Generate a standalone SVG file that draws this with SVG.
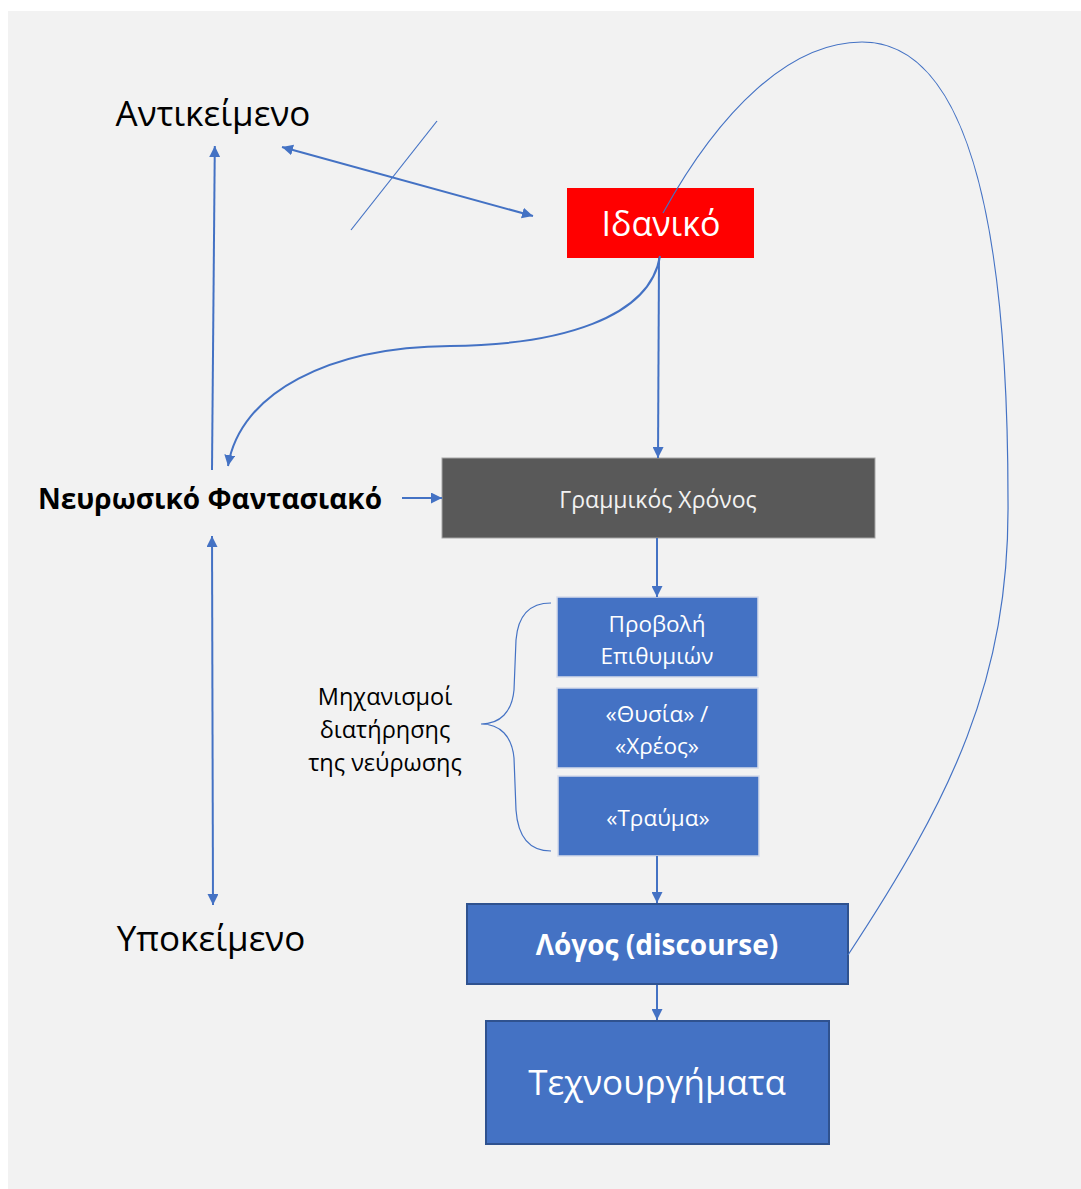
<svg xmlns="http://www.w3.org/2000/svg" width="1081" height="1189" viewBox="0 0 1081 1189">
  <defs>
    <marker id="ah" viewBox="0 0 10 10" refX="10" refY="5" markerWidth="5.5" markerHeight="5.5" orient="auto-start-reverse" markerUnits="strokeWidth">
      <path d="M0,0 L10,5 L0,10 z" fill="#4472c4"/>
    </marker>
    <style>
      text { font-family: "Open Sans", "Noto Sans", "DejaVu Sans", sans-serif; text-anchor: middle; }
      .lbl { fill: #000; font-size: 35px; }
      .bold { font-weight: bold; }
      .wt { fill: #fff; }
      .blue-lt { fill: #4472c4; stroke: #d6dcea; stroke-width: 1.5; }
      .blue-dk { fill: #4472c4; stroke: #2f528f; stroke-width: 2; }
      .conn { fill: none; stroke: #4472c4; stroke-width: 2; }
      .thin { fill: none; stroke: #4472c4; stroke-width: 1.2; }
    </style>
  </defs>

  <!-- page -->
  <rect width="1081" height="1189" fill="#ffffff"/>
  <rect x="8" y="11" width="1073" height="1178" fill="#f2f2f2"/>

  <!-- free labels -->
  <g id="antikeimeno">
    <text class="lbl" x="213" y="126">Αντικείμενο</text>
  </g>
  <g id="ypokeimeno">
    <text class="lbl" x="211" y="951">Υποκείμενο</text>
  </g>
  <g id="neurotiko">
    <text class="bold" x="210" y="509" font-size="28" fill="#000">Νευρωσικό Φαντασιακό</text>
  </g>
  <g id="mixanismoi">
    <text x="385" y="705" font-size="23.5" fill="#000">Μηχανισμοί</text>
    <text x="385" y="738" font-size="23.5" fill="#000">διατήρησης</text>
    <text x="385" y="771" font-size="23.5" fill="#000">της νεύρωσης</text>
  </g>

  <!-- boxes -->
  <g id="idaniko">
    <rect x="567" y="188" width="187" height="70" fill="#ff0000"/>
    <text class="wt" x="661" y="236" font-size="34">Ιδανικό</text>
  </g>
  <g id="grammikos">
    <rect x="442" y="458" width="433" height="80" fill="#595959" stroke="#a6a6a6" stroke-width="1"/>
    <text x="658" y="508" font-size="23" fill="#f2f2f2">Γραμμικός Χρόνος</text>
  </g>
  <g id="provoli">
    <rect class="blue-lt" x="557" y="597" width="201" height="80"/>
    <text class="wt" x="657" y="632" font-size="22.5">Προβολή</text>
    <text class="wt" x="657" y="664" font-size="22.5">Επιθυμιών</text>
  </g>
  <g id="thysia">
    <rect class="blue-lt" x="557" y="688" width="201" height="80"/>
    <text class="wt" x="657" y="722" font-size="22.5">«Θυσία» /</text>
    <text class="wt" x="657" y="754" font-size="22.5">«Χρέος»</text>
  </g>
  <g id="trauma">
    <rect class="blue-lt" x="558" y="776" width="201" height="80"/>
    <text class="wt" x="658" y="826" font-size="22.5">«Τραύμα»</text>
  </g>
  <g id="logos">
    <rect class="blue-dk" x="467" y="904" width="381" height="80"/>
    <text class="wt bold" x="657" y="955" font-size="28">Λόγος (discourse)</text>
  </g>
  <g id="technourgimata">
    <rect class="blue-dk" x="486" y="1021" width="343" height="123"/>
    <text class="wt" x="657" y="1095" font-size="35">Τεχνουργήματα</text>
  </g>

  <!-- connectors -->
  <g id="connectors">
    <!-- Νευρωσικό Φαντασιακό -> Αντικείμενο -->
    <line class="conn" x1="212" y1="470" x2="214.8" y2="146" marker-end="url(#ah)"/>
    <!-- Αντικείμενο <-> Ιδανικό, crossed out -->
    <line class="conn" x1="282" y1="147" x2="533" y2="216" marker-start="url(#ah)" marker-end="url(#ah)"/>
    <line class="thin" x1="437" y1="121" x2="351" y2="230"/>
    <!-- Ιδανικό -> Νευρωσικό Φαντασιακό -->
    <path class="conn" d="M660,256 C650,318 560,345 450,346 C330,347 240,392 228,466" marker-end="url(#ah)"/>
    <!-- Ιδανικό -> Γραμμικός Χρόνος -->
    <line class="conn" x1="659" y1="258" x2="658" y2="458" marker-end="url(#ah)"/>
    <!-- Νευρωσικό Φαντασιακό -> Γραμμικός Χρόνος -->
    <line class="conn" x1="402" y1="498" x2="442" y2="498" marker-end="url(#ah)"/>
    <!-- Νευρωσικό Φαντασιακό <-> Υποκείμενο -->
    <line class="conn" x1="212" y1="536" x2="213" y2="905" marker-start="url(#ah)" marker-end="url(#ah)"/>
    <!-- main chain -->
    <line class="conn" x1="657" y1="538" x2="657" y2="597" marker-end="url(#ah)"/>
    <line class="conn" x1="657" y1="856" x2="657" y2="903" marker-end="url(#ah)"/>
    <line class="conn" x1="657" y1="985" x2="657" y2="1020" marker-end="url(#ah)"/>
    <!-- brace grouping the mechanisms -->
    <path class="thin" d="M551,603 C530,603 518,615 516,640 L514,690 C512,712 500,724 481,724 C500,724 512,736 514,758 L516,810 C518,838 530,851 551,851"/>
    <!-- loop from Λόγος back to Ιδανικό -->
    <path class="thin" d="M848,955 C950,800 1010,680 1008,500 C1008,250 975,42 862,42 C790,42 720,110 663,213"/>
  </g>
</svg>
